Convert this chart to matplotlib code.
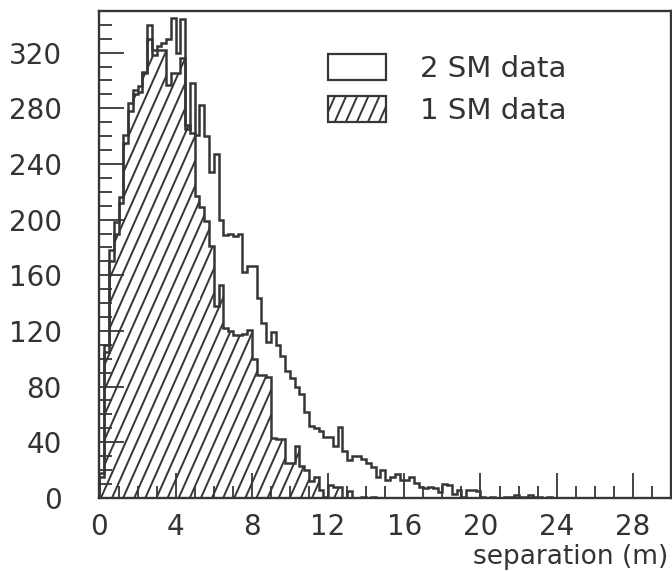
import numpy as np
import matplotlib
matplotlib.use('Agg')
import matplotlib.pyplot as plt
import matplotlib.hatch as mhatch
from matplotlib.path import Path
from matplotlib.patches import Patch

# largeur des classes (m)
bin_width = 0.25
n_bins = 120

# comptages, classe par classe
two_sm = [18, 110, 178, 198, 216, 261, 284, 293, 296, 306,
          340, 322, 325, 327, 330, 345, 320, 344, 265, 298,
          261, 282, 260, 234, 247, 200, 189, 190, 188, 190,
          162, 167, 167, 144, 126, 112, 119, 110, 102, 91,
          86, 80, 75, 62, 52, 50, 48, 44, 44, 37,
          51, 34, 27, 30, 30, 28, 25, 22, 15, 20,
          13, 15, 17, 13, 13, 15, 11, 8, 7, 8,
          7, 4, 10, 9, 3, 6, 1, 6, 6, 5,
          1, 0, 1, 0, 0, 1, 1, 2, 1, 1,
          2, 1, 1, 0, 1, 0, 0, 0, 0, 0,
          0, 0, 0, 0, 0, 0, 0, 0, 0, 0,
          0, 0, 0, 0, 0, 0, 0, 0, 0, 0]

one_sm = [15, 105, 170, 190, 212, 255, 278, 290, 292, 305,
          330, 318, 322, 322, 297, 305, 305, 316, 268, 262,
          217, 209, 199, 181, 138, 153, 122, 120, 117, 117,
          118, 121, 100, 88, 88, 87, 43, 42, 42, 25,
          25, 37, 23, 20, 12, 15, 6, 1, 9, 8,
          8, 0, 5, 0, 0, 1, 0, 1, 0, 0,
          0, 0, 0, 0, 0, 0, 0, 0, 0, 0,
          0, 0, 0, 0, 0, 0, 0, 0, 0, 0,
          0, 0, 0, 0, 0, 0, 0, 0, 0, 0,
          0, 0, 0, 0, 0, 0, 0, 0, 0, 0,
          0, 0, 0, 0, 0, 0, 0, 0, 0, 0,
          0, 0, 0, 0, 0, 0, 0, 0, 0, 0]

labels = ['2 SM data', '1 SM data']
x_ticks = [0, 4, 8, 12, 16, 20, 24, 28]
y_ticks = [0, 40, 80, 120, 160, 200, 240, 280, 320]


class SteepHatch(mhatch.HatchPatternBase):
    # hachures '/' plus raides que les 45 degres de matplotlib (pente 9/4)
    def __init__(self, hatch, density):
        n = hatch.count('/') + hatch.count('x') + hatch.count('X')
        self.offsets = np.arange(-4 * n, 9 * n) / (9 * n) if n else np.array([])
        self.num_vertices = len(self.offsets) * 2

    def set_vertices_and_codes(self, vertices, codes):
        vertices[0::2, 0] = self.offsets
        vertices[0::2, 1] = 0.0
        vertices[1::2, 0] = self.offsets + 4 / 9
        vertices[1::2, 1] = 1.0
        codes[0::2] = Path.MOVETO
        codes[1::2] = Path.LINETO


mhatch._hatch_types = [SteepHatch if t is mhatch.NorthEastHatch else t
                       for t in mhatch._hatch_types]

dark = '#363636'
grey_text = '#333333'
plt.rcParams['font.family'] = ['DejaVu Sans']
plt.rcParams['hatch.linewidth'] = 1.4
plt.rcParams['text.color'] = grey_text

edges = np.arange(n_bins + 1) * bin_width

fig = plt.figure(figsize=(6.72, 5.71), dpi=100)
ax = fig.add_axes([0.148, 0.128, 0.8505, 0.853])

ax.stairs(one_sm, edges, fill=True, hatch='/', facecolor='white',
          edgecolor=dark, linewidth=1.8)
ax.stairs(two_sm, edges, color=dark, linewidth=1.8)

ax.set_xlim(0, 30)
ax.set_ylim(0, 350)
ax.set_xticks(x_ticks)
ax.set_xticks(np.arange(0, 31, 1), minor=True)
ax.set_yticks(y_ticks)
ax.set_yticks(np.arange(0, 351, 10), minor=True)
ax.tick_params(which='both', direction='in', top=False, right=False,
               color=dark, width=1.3, labelsize=20, labelcolor=grey_text)
ax.tick_params(which='major', length=18)
ax.tick_params(which='minor', length=9)
ax.tick_params(axis='y', which='major', pad=27)
ax.tick_params(axis='x', which='major', pad=11)
for sp in ax.spines.values():
    sp.set_linewidth(1.7)
    sp.set_color(dark)

ax.set_xlabel('separation (m)', fontsize=19, ha='right', va='baseline',
              color=grey_text)
ax.xaxis.set_label_coords(0.996, -0.1366)

handles = [Patch(facecolor='white', edgecolor=dark, linewidth=1.6, label=labels[0]),
           Patch(facecolor='white', edgecolor=dark, linewidth=1.6, hatch='/', label=labels[1])]
ax.legend(handles=handles, loc='upper left', bbox_to_anchor=(0.488, 0.906),
          bbox_transform=fig.transFigure, frameon=False, borderpad=0,
          fontsize=21, handlelength=1.99, handleheight=0.99,
          handletextpad=1.16, labelspacing=0.45, borderaxespad=0)

fig.savefig('out.png', dpi=100)
